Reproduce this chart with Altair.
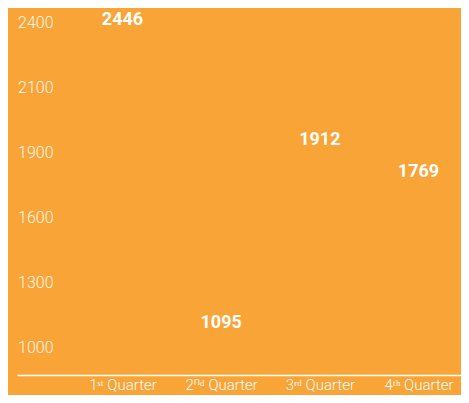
import altair as alt
import pandas as pd

quarters = ["1ˢᵗ Quarter", "2ⁿᵈ Quarter", "3ʳᵈ Quarter", "4ᵗʰ Quarter"]
values = [2446, 1095, 1912, 1769]
tick_labels = ["2400", "2100", "1900", "1600", "1300", "1000"]

ORANGE = "#F9A437"
FONT = "Roboto"

data = pd.DataFrame({"quarter": quarters, "value": values})
ticks = pd.DataFrame({"label": tick_labels})

xscale = alt.Scale(domain=quarters, type="point", padding=0.75, align=0.713)

values_layer = alt.Chart(data).mark_text(
    font=FONT, fontSize=18, fontWeight="bold", color="white", baseline="middle", align="center"
).encode(
    x=alt.X("quarter:N", scale=xscale, sort=None, title=None,
            axis=alt.Axis(domainColor="white", domainWidth=1.5, ticks=False, labelAngle=0,
                          labelColor="white", labelFont=FONT, labelFontSize=15,
                          labelFontWeight=300, labelPadding=2, labelBaseline="top", grid=False)),
    y=alt.Y("value:Q", scale=alt.Scale(domain=[865, 2501], nice=False, zero=False), axis=None),
    text="value:Q",
)

tick_layer = alt.Chart(ticks).mark_text(
    font=FONT, fontSize=16, fontWeight=300, color="white", opacity=0.92,
    align="left", baseline="middle"
).encode(
    x=alt.value(1),
    y=alt.Y("label:N", sort=None, scale=alt.Scale(type="point", padding=0.32, align=0.357), axis=None),
    text="label:N",
)

chart = alt.layer(values_layer, tick_layer).resolve_scale(y="independent").properties(
    width=444, height=367, background=ORANGE,
    autosize=alt.AutoSizeParams(type="none"),
    padding={"left": 9, "top": 0, "right": 0, "bottom": 20},
).configure_view(stroke=None)

chart.save("out.html", embed_options={"renderer": "svg", "actions": False})
